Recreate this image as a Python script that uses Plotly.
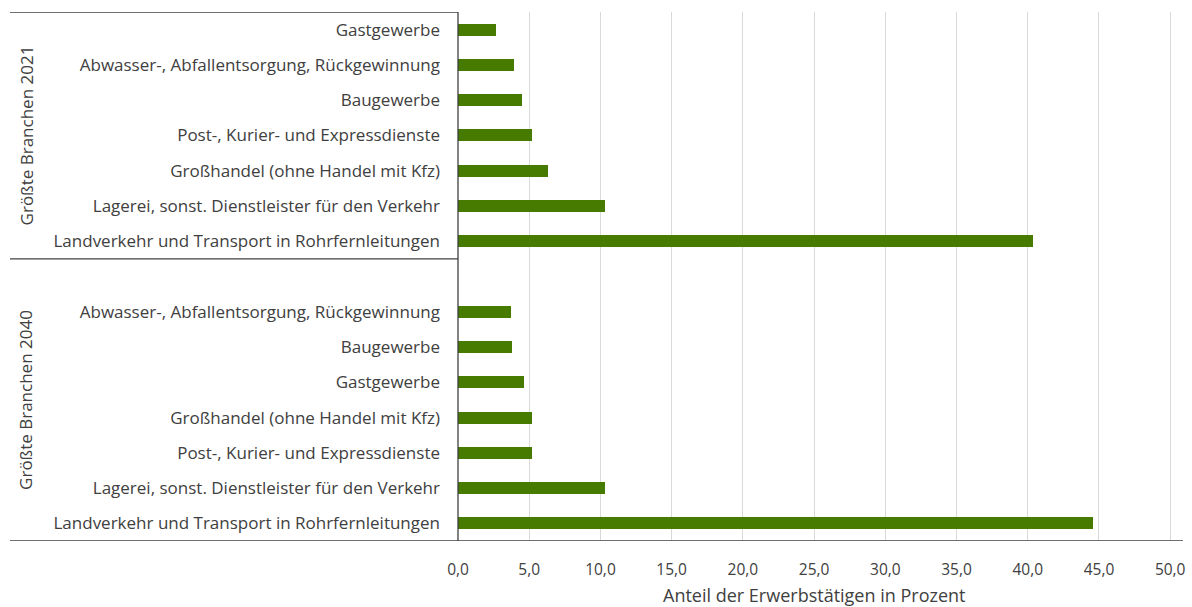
import plotly.graph_objects as go

# Data
cats_2021 = ["Gastgewerbe", "Abwasser-, Abfallentsorgung, Rückgewinnung", "Baugewerbe",
             "Post-, Kurier- und Expressdienste", "Großhandel (ohne Handel mit Kfz)",
             "Lagerei, sonst. Dienstleister für den Verkehr",
             "Landverkehr und Transport in Rohrfernleitungen"]
vals_2021 = [2.7, 3.9, 4.5, 5.2, 6.3, 10.3, 40.4]

cats_2040 = ["Abwasser-, Abfallentsorgung, Rückgewinnung", "Baugewerbe", "Gastgewerbe",
             "Großhandel (ohne Handel mit Kfz)", "Post-, Kurier- und Expressdienste",
             "Lagerei, sonst. Dienstleister für den Verkehr",
             "Landverkehr und Transport in Rohrfernleitungen"]
vals_2040 = [3.7, 3.8, 4.6, 5.2, 5.2, 10.3, 44.6]

group_labels = ["Größte Branchen 2021", "Größte Branchen 2040"]
x_title = "Anteil der Erwerbstätigen in Prozent"
x_ticks = [0, 5, 10, 15, 20, 25, 30, 35, 40, 45, 50]

# Row positions: group 2021 rows, then a blank row starting group 2040
n1 = len(cats_2021)
pos_2021 = list(range(n1))
pos_2040 = [n1 + 1 + i for i in range(len(cats_2040))]
n_rows = n1 + 1 + len(cats_2040)

FONT = "Open Sans"
TXT = "#404040"
BAR = "#467B00"
LINE = "#404040"

fig = go.Figure()
fig.add_trace(go.Bar(x=vals_2021 + vals_2040, y=pos_2021 + pos_2040, orientation="h",
                     width=0.34, marker=dict(color=BAR, line=dict(width=0)),
                     hoverinfo="x+y", showlegend=False))

W, H = 1192, 607
ml, mt = 458, 12
mr = W - 1183
mb = H - 541
pw = W - ml - mr

def xpaper(px):
    return (px - ml) / pw

fig.update_layout(
    width=W, height=H, autosize=False,
    margin=dict(l=ml, r=mr, t=mt, b=mb, autoexpand=False),
    paper_bgcolor="white", plot_bgcolor="white",
    separators=",.",
    font=dict(family=FONT, size=16, color=TXT),
    bargap=0,
)
fig.update_xaxes(range=[0, 50.9], tickvals=x_ticks, tickformat=".1f",
                 showgrid=True, gridcolor="#d9d9d9", gridwidth=1,
                 zeroline=False, showline=False, ticks="", ticklabelstandoff=17,
                 tickfont=dict(size=15.5, color=TXT), fixedrange=True)
fig.update_yaxes(range=[n_rows - 0.5, -0.5], tickvals=pos_2021 + pos_2040,
                 ticktext=cats_2021 + cats_2040, showgrid=False, zeroline=False,
                 showline=False, ticks="", ticklabelstandoff=17,
                 tickfont=dict(size=17, color=TXT), fixedrange=True)

# frame lines
x_left = xpaper(10)
x_right = xpaper(1183)
lw = 1.3
fig.add_shape(type="line", xref="paper", yref="y", x0=x_left, x1=0, y0=-0.5, y1=-0.5,
              line=dict(color=LINE, width=lw))
fig.add_shape(type="line", xref="paper", yref="y", x0=x_left, x1=0, y0=n1 - 0.5, y1=n1 - 0.5,
              line=dict(color=LINE, width=lw))
fig.add_shape(type="line", xref="paper", yref="y", x0=x_left, x1=x_right,
              y0=n_rows - 0.5, y1=n_rows - 0.5, line=dict(color=LINE, width=lw))
fig.add_shape(type="line", xref="paper", yref="y", x0=0, x1=0, y0=-0.5, y1=n_rows - 0.5,
              line=dict(color=LINE, width=lw))

# group labels
fig.add_annotation(xref="paper", yref="y", x=xpaper(26), y=(pos_2021[0] + pos_2021[-1]) / 2,
                   xanchor="center", yanchor="middle",
                   text=group_labels[0], textangle=-90, showarrow=False,
                   font=dict(size=17, color=TXT))
fig.add_annotation(xref="paper", yref="y", x=xpaper(26), y=(n1 + pos_2040[-1]) / 2,
                   xanchor="center", yanchor="middle",
                   text=group_labels[1], textangle=-90, showarrow=False,
                   font=dict(size=17, color=TXT))

# x axis title
fig.add_annotation(xref="x", yref="paper", x=25, y=0, yshift=-54, yanchor="middle",
                   text=x_title, showarrow=False, font=dict(size=18, color=TXT))

fig.write_html("out.html", config={"displayModeBar": False},
               post_script="document.body.style.margin='0';document.body.style.overflow='hidden';")
